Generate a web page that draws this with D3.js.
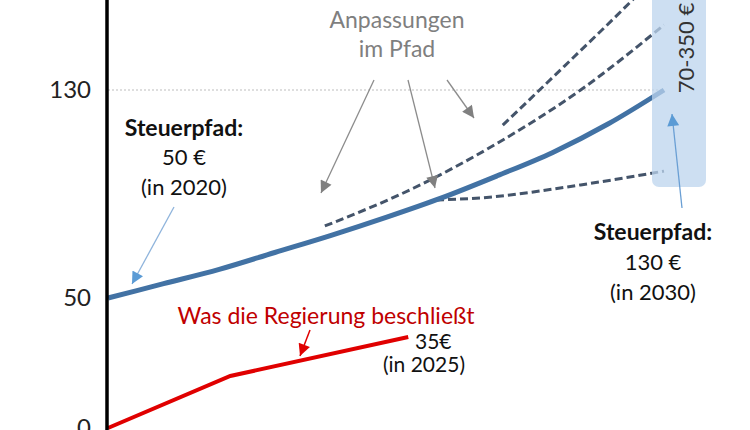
<!DOCTYPE html>
<html><head><meta charset="utf-8">
<script src="https://cdn.jsdelivr.net/npm/d3@7"></script>
<style>
html,body{margin:0;padding:0;background:#fff;}
svg{display:block;font-family:Lato,"Open Sans",sans-serif;}
</style></head>
<body><svg id="c" width="750" height="430"></svg>
<script>
// ---- data ----
const pathYears   = [2020,2021,2022,2023,2024,2025,2026,2027,2028,2029,2030];
const pathValues  = [50,55.5,61,67.5,74,81,88.5,97,106,117,130];
const adjAYears   = [2023.9,2025.5,2027,2028.5,2030];
const adjAValues  = [77.7,92.3,109.5,130,155];
const adjBYears   = [2027.1,2028.2,2029.45,2029.75];
const adjBValues  = [116.5,139,165,171.5];
const adjCYears   = [2025.9,2026.7,2028.5,2030];
const adjCValues  = [87.7,88.5,93.5,98.8];
const govYears    = [2020,2022.2,2025.4];
const govValues   = [0,20,35];
const yTickValues = [0,50,130];
const rangeLabel  = "70-350 €";

const svg = d3.select("#c");
const x = d3.scaleLinear().domain([2020,2030]).range([108,664]);
const y = d3.scaleLinear().domain([0,130]).range([428,90]);

const defs = svg.append("defs");
function marker(id, color){
  defs.append("marker").attr("id",id).attr("viewBox","0 0 10 10")
    .attr("refX",10).attr("refY",5).attr("markerWidth",13).attr("markerHeight",12)
    .attr("markerUnits","userSpaceOnUse").attr("orient","auto")
    .append("path").attr("d","M0,0 L10,5 L0,10 z").attr("fill",color);
}
marker("ag","#808080");
marker("ab","#5b9bd5");
marker("ar","#e00000");

// gridline at 130
svg.append("line").attr("x1",x(2020)).attr("x2",x(2030)).attr("y1",y(130)).attr("y2",y(130))
  .attr("stroke","#bdbdbd").attr("stroke-width",1).attr("stroke-dasharray","2,2");

const line = d3.line().x(d=>x(d[0])).y(d=>y(d[1])).curve(d3.curveMonotoneX);
const zip = (a,b)=>a.map((v,i)=>[v,b[i]]);

// dashed adjustments
[[adjAYears,adjAValues],[adjBYears,adjBValues],[adjCYears,adjCValues]].forEach(([a,b])=>{
  svg.append("path").attr("d",line(zip(a,b))).attr("fill","none")
    .attr("stroke","#44546a").attr("stroke-width",3).attr("stroke-dasharray","8,4");
});
// main path
svg.append("path").attr("d",line(zip(pathYears,pathValues))).attr("fill","none")
  .attr("stroke","#4272a4").attr("stroke-width",5);
// government line
svg.append("path").attr("d",d3.line().x(d=>x(d[0])).y(d=>y(d[1]))(zip(govYears,govValues)))
  .attr("fill","none").attr("stroke","#e00000").attr("stroke-width",4);

// range box
svg.append("rect").attr("x",652).attr("y",-10).attr("width",54).attr("height",197).attr("rx",7)
  .attr("fill","rgb(188,212,238)").attr("fill-opacity",0.75);
svg.append("text").attr("transform","translate(694,48) rotate(-90)")
  .attr("text-anchor","middle").attr("font-size",22).attr("fill","#333").text(rangeLabel);

// y axis
const ax = svg.append("g").attr("transform","translate(107,0)")
  .call(d3.axisLeft(y).tickValues(yTickValues).tickSize(0).tickPadding(16));
ax.select(".domain").remove();
ax.selectAll("text").attr("font-size",24).attr("font-family","Lato").attr("fill","#222");
svg.append("line").attr("x1",107).attr("x2",107).attr("y1",0).attr("y2",430)
  .attr("stroke","#000").attr("stroke-width",3.5);

// texts
function lines(cx, ys, arr, opts){
  arr.forEach((t,i)=>{
    const tx = svg.append("text").attr("x",cx).attr("y",ys[i]).attr("dy","0.35em")
      .attr("text-anchor",opts.anchor||"middle").attr("font-size",opts.size||22).attr("fill",opts.fill||"#111").text(t);
    if(opts.boldFirst && i===0) tx.attr("font-weight","bold").attr("font-size",23);
  });
}
lines(184,[128,157,187],["Steuerpfad:","50 €","(in 2020)"],{boldFirst:true});
lines(653,[232,262,292],["Steuerpfad:","130 €","(in 2030)"],{boldFirst:true});
lines(397,[20,49],["Anpassungen","im Pfad"],{fill:"#7f7f7f",size:23});
svg.append("text").attr("x",326).attr("y",316).attr("dy","0.35em").attr("text-anchor","middle")
  .attr("font-size",23).attr("fill","#c00000").text("Was die Regierung beschließt");
lines(415,[342],["35€"],{size:21,anchor:"start"});
lines(424,[365],["(in 2025)"],{size:21});

// arrows
function arrow(x1,y1,x2,y2,color,m,w){
  svg.append("line").attr("x1",x1).attr("y1",y1).attr("x2",x2).attr("y2",y2)
    .attr("stroke",color).attr("stroke-width",w||1.3).attr("marker-end",`url(#${m})`);
}
arrow(374,80,321,193,"#8c8c8c","ag");
arrow(408,80,435,188,"#8c8c8c","ag");
arrow(447,80,474,118,"#8c8c8c","ag");
arrow(174,207,132,284,"#8fb4dc","ab");
arrow(682,208,672,114,"#6a9fd4","ab");
arrow(310,330,300,356,"#e00000","ar",1.5);
</script></body></html>
